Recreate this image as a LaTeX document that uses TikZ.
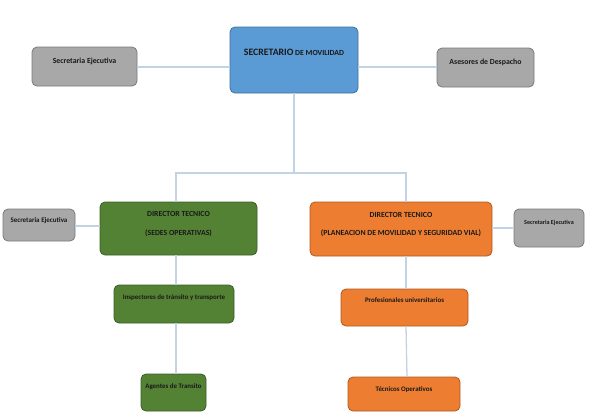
\documentclass[tikz,border=0pt]{standalone}
\usepackage{fontspec}
\setmainfont{Carlito}
\definecolor{cblue}{HTML}{5B9BD5}
\definecolor{cbluebd}{HTML}{41719C}
\definecolor{cgreen}{HTML}{548235}
\definecolor{cgreenbd}{HTML}{3B5E26}
\definecolor{corange}{HTML}{ED7D31}
\definecolor{corangebd}{HTML}{AE5A21}
\definecolor{cgray}{HTML}{A9A8A8}
\definecolor{cgraybd}{HTML}{7A7A7A}
\definecolor{cline}{HTML}{C2D3E3}
\begin{document}
\begin{tikzpicture}[x=1pt,y=-1pt,
  box/.style={rounded corners=5pt, draw, line width=0.8pt, inner sep=0pt, align=center, font=\bfseries\fontsize{7.8}{9}\selectfont, text=black!90},
  gbox/.style={box, fill=cgray, draw=cgraybd},
  bbox/.style={box, fill=cblue, draw=cbluebd},
  grbox/.style={box, fill=cgreen, draw=cgreenbd},
  obox/.style={box, fill=corange, draw=corangebd},
  conn/.style={draw=cline, line width=1.3pt}]
\fill[white] (0,0) rectangle (589,413);
\useasboundingbox (0,0) rectangle (589,413);
% top row
\node[gbox, minimum width=105pt, minimum height=39pt] (se1) at (84.5,66.5) {Secretaria Ejecutiva\\[3pt]};
\node[bbox, minimum width=128pt, minimum height=66pt] (sec) at (294,60) {{\fontsize{9.8}{11}\selectfont SECRETARIO} DE MOVILIDAD\\[6pt]};
\node[gbox, minimum width=97pt, minimum height=39pt] (ase) at (485.5,67.5) {Asesores de Despacho\\[2pt]};
% middle row
\node[gbox, minimum width=72pt, minimum height=32pt, font=\bfseries\fontsize{7}{8}\selectfont] (se2) at (39,225) {Secretaria Ejecutiva\\[1pt]};
\node[grbox, minimum width=157pt, minimum height=53pt] (dg) at (178.5,228.5) {DIRECTOR TECNICO\\[10pt](SEDES OPERATIVAS)\\[2pt]};
\node[obox, minimum width=182pt, minimum height=54pt] (do) at (401,229) {DIRECTOR TECNICO\\[9pt](PLANEACION DE MOVILIDAD Y SEGURIDAD VIAL)\\[2pt]};
\node[gbox, minimum width=70pt, minimum height=38pt, font=\bfseries\fontsize{6.1}{7}\selectfont] (se3) at (549,228) {Secretaria Ejecutiva\\[4pt]};
% bottom row
\node[grbox, minimum width=120pt, minimum height=38pt, font=\bfseries\fontsize{6.9}{8}\selectfont] (ins) at (174,304) {Inspectores de tránsito y transporte\\[6pt]};
\node[grbox, minimum width=65pt, minimum height=37pt, font=\bfseries\fontsize{6.9}{8}\selectfont] (age) at (173.5,392.5) {Agentes de Transito\\[4pt]};
\node[obox, minimum width=127pt, minimum height=37pt, font=\bfseries\fontsize{6.9}{8}\selectfont] (pro) at (404.5,307.5) {Profesionales universitarios\\[6pt]};
\node[obox, minimum width=112pt, minimum height=34pt, font=\bfseries\fontsize{6.9}{8}\selectfont] (tec) at (404,394) {Técnicos Operativos\\[2pt]};
% connectors
\coordinate (j) at (294,173);
\draw[conn] (se1.east |- 0,67) -- (sec.west |- 0,67);
\draw[conn] (sec.east |- 0,67) -- (ase.west |- 0,67);
\draw[conn] (sec.south) -- (j);
\draw[conn] (j) -| (dg.north -| 176,0);
\draw[conn] (j) -| (do.north -| 406,0);
\draw[conn] (se2.east |- 0,226) -- (dg.west |- 0,226);
\draw[conn] (do.east |- 0,228) -- (se3.west |- 0,228);
\draw[conn] (dg.south -| 176,0) -- (ins.north -| 176,0);
\draw[conn] (ins.south -| 176,0) -- (age.north -| 176,0);
\draw[conn] (do.south -| 406,0) -- (pro.north -| 406,0);
\draw[conn] (pro.south -| 406,0) -- (tec.north -| 407,0);
\end{tikzpicture}
\end{document}
